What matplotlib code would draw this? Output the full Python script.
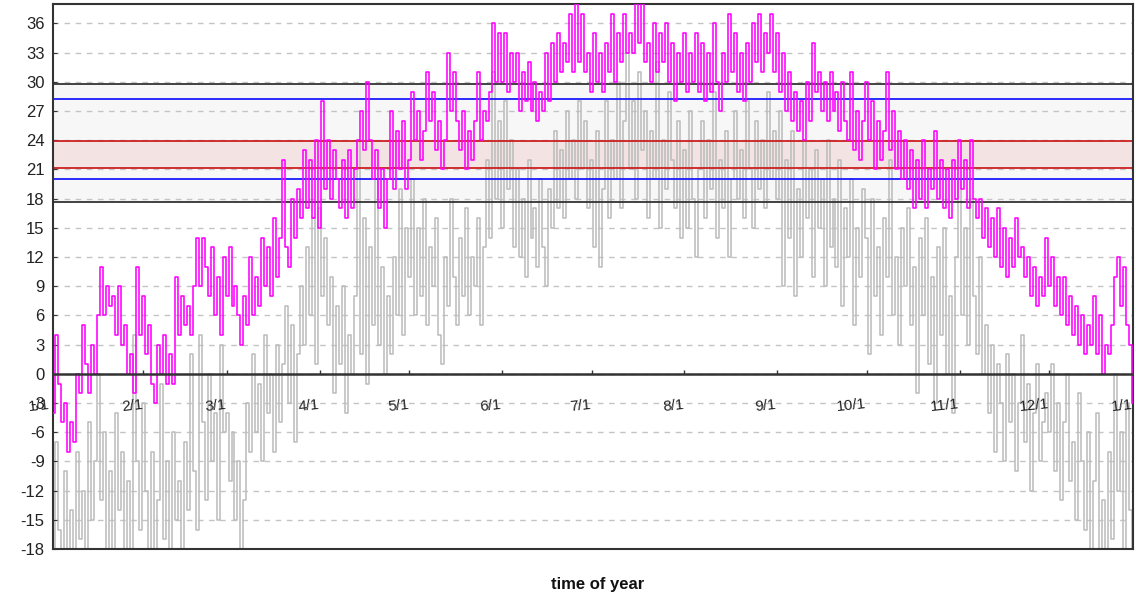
import numpy as np
import matplotlib
matplotlib.use('Agg')
import matplotlib.pyplot as plt

plt.rcParams['font.family'] = ['Liberation Sans', 'DejaVu Sans']
plt.rcParams['axes.unicode_minus'] = False

# daily high (magenta) by month
hi_jan = [1, -4, 4, -1, -5, -3, -8, -5, -7, 0, -2, 5, 1, -2, 3, 0, 6, 11, 6, 9, 7, 8, 4, 9, 3, 5, 0, 2, -2, 11, 4]
hi_feb = [8, 2, 5, -1, -3, 3, 0, 4, -1, 2, -1, 10, 4, 8, 5, 7, 4, 9, 14, 9, 14, 11, 8, 13, 6, 10, 4, 12]
hi_mar = [8, 13, 7, 9, 6, 3, 8, 5, 12, 6, 10, 7, 14, 9, 13, 8, 16, 10, 14, 22, 13, 11, 18, 14, 19, 16, 23, 17, 22, 16, 24]
hi_apr = [15, 28, 19, 24, 18, 23, 20, 17, 22, 16, 23, 17, 21, 24, 27, 23, 30, 24, 20, 23, 17, 21, 15, 20, 27, 19, 25, 21, 26, 19]
hi_may = [22, 29, 24, 27, 22, 25, 31, 26, 29, 23, 26, 21, 24, 33, 27, 31, 26, 23, 27, 21, 25, 22, 26, 31, 24, 27, 26, 29, 36, 30, 35]
hi_jun = [30, 35, 29, 33, 30, 33, 27, 31, 28, 32, 27, 30, 26, 29, 27, 33, 28, 34, 30, 35, 31, 34, 32, 37, 31, 38, 32, 37, 31, 33]
hi_jul = [29, 35, 30, 33, 29, 34, 31, 37, 30, 35, 32, 37, 33, 35, 33, 38, 34, 38, 32, 34, 30, 36, 31, 35, 32, 36, 30, 34, 28, 33, 30]
hi_aug = [35, 29, 33, 30, 35, 29, 34, 28, 33, 29, 36, 30, 27, 33, 30, 37, 31, 35, 29, 33, 28, 34, 30, 36, 32, 37, 31, 35, 33, 37, 31]
hi_sep = [35, 29, 33, 27, 31, 26, 29, 25, 28, 24, 30, 26, 34, 29, 31, 27, 30, 26, 31, 27, 29, 25, 30, 26, 24, 31, 23, 27, 22, 26]
hi_oct = [30, 24, 28, 21, 26, 22, 25, 31, 23, 27, 21, 25, 20, 24, 19, 23, 17, 22, 18, 24, 17, 21, 19, 25, 18, 22, 17, 21, 16, 22, 18]
hi_nov = [24, 19, 22, 17, 24, 18, 16, 18, 14, 17, 13, 16, 12, 17, 11, 15, 10, 14, 11, 16, 12, 13, 10, 12, 8, 11, 7, 10, 8, 14]
hi_dec = [9, 12, 7, 10, 6, 10, 5, 8, 4, 7, 3, 6, 2, 5, 3, 8, 2, 6, 0, 3, 2, 5, 10, 12, 7, 11, 5, 3, -3, 1, -4]

# daily low (gray) by month
lo_jan = [-12, -20, -7, -16, -22, -10, -19, -14, -21, -8, -17, -12, -20, -5, -15, -9, 0, -13, -6, -18, -10, -21, -4, -14, -8, -19, -11, -22, 4, -9, -16]
lo_feb = [-3, -12, -18, -8, -20, -13, -1, -17, -9, -21, -6, -15, -11, -19, -7, -14, 2, -10, -16, 4, -5, -13, 0, -9, -4, -15, 3, -6]
lo_mar = [-4, -11, -6, -15, -9, -20, -13, -3, -8, 2, -6, -1, -9, 4, -4, 0, -8, 3, -5, 1, 7, -3, 5, -7, 2, 9, 3, 13, 6, 16, 1]
lo_apr = [17, 8, 14, 5, 10, -2, 7, 1, 9, -4, 4, 0, 8, 24, 2, 16, -1, 13, 5, 20, 3, 11, 0, 8, 2, 12, 6, 19, 4, 15]
lo_may = [10, 20, 6, 15, 8, 18, 5, 13, 9, 16, 4, 1, 12, 7, 18, 10, 5, 14, 8, 17, 6, 12, 9, 16, 5, 13, 22, 14, 31, 18, 26]
lo_jun = [15, 28, 19, 24, 13, 21, 12, 18, 10, 22, 14, 17, 11, 20, 13, 9, 19, 15, 25, 17, 23, 16, 27, 20, 24, 18, 28, 21, 26, 17]
lo_jul = [22, 13, 25, 11, 19, 28, 16, 24, 20, 30, 17, 26, 33, 21, 28, 18, 31, 23, 27, 16, 25, 20, 32, 15, 24, 19, 29, 22, 17, 26, 14]
lo_aug = [23, 15, 27, 18, 12, 21, 26, 16, 24, 19, 29, 14, 22, 17, 25, 12, 20, 27, 18, 23, 16, 28, 21, 15, 26, 19, 24, 17, 29, 20, 25]
lo_sep = [18, 27, 9, 22, 14, 25, 8, 19, 12, 24, 16, 21, 10, 23, 15, 20, 9, 24, 13, 18, 11, 22, 7, 17, 12, 20, 5, 15, 10, 19]
lo_oct = [14, 2, 18, 8, 13, 4, 16, 10, 22, 6, 12, 3, 15, 9, 17, 5, 11, -2, 14, 6, 16, 1, 10, -3, 13, 4, 15, 0, 8, -4, 12]
lo_nov = [20, 6, 15, 3, 18, 8, 2, 12, 0, 5, -4, 3, -8, 1, -3, -9, 2, -5, 0, -10, -3, 4, -7, -1, -12, -4, 1, -9, -5, -2]
lo_dec = [-6, 1, -10, -3, -13, -5, 0, -11, -7, -15, -2, -9, -16, -6, -20, -11, -4, -19, -13, -22, -8, -17, 0, -12, -6, -20, -3, -14, -21, -9, -16]

month_labels = ['1/1', '2/1', '3/1', '4/1', '5/1', '6/1', '7/1', '8/1', '9/1', '10/1', '11/1', '12/1', '1/1']
month_days = [0, 31, 59, 90, 120, 151, 181, 212, 243, 273, 304, 334, 365]

# comfort bands: (low, high)
outer_band = (17.65, 29.8)
blue_band = (20.0, 28.2)
red_band = (21.2, 23.9)

hi = np.array(hi_jan + hi_feb + hi_mar + hi_apr + hi_may + hi_jun +
              hi_jul + hi_aug + hi_sep + hi_oct + hi_nov + hi_dec, dtype=float)
lo = np.array(lo_jan + lo_feb + lo_mar + lo_apr + lo_may + lo_jun +
              lo_jul + lo_aug + lo_sep + lo_oct + lo_nov + lo_dec, dtype=float)
days = np.arange(len(hi))

fig = plt.figure(figsize=(11.36, 5.98), dpi=100)
ax = fig.add_axes([53 / 1136, 1 - 549 / 598, 1080 / 1136, 545 / 598])

x_max = 362
ax.set_xlim(0.8, x_max)
ax.set_ylim(-18, 38)

# bands
ax.axhspan(*outer_band, facecolor='#f7f7f7', edgecolor='none', zorder=0.3)
ax.axhspan(*red_band, facecolor='#f3e3e3', edgecolor='none', zorder=0.4)

# grid
ax.set_yticks(range(-18, 37, 3))
for y in range(-18, 37, 3):
    ax.axhline(y, color='#c4c4c4', lw=1, dashes=(4, 4), zorder=0.5)

ax.step(days, lo, where='mid', color='#bdbdbd', lw=1.15, zorder=1)

for y in outer_band:
    ax.axhline(y, color='#333333', lw=1.3, zorder=2)
for y in blue_band:
    ax.axhline(y, color='#1a1aff', lw=1.3, zorder=2)
for y in red_band:
    ax.axhline(y, color='#cc1f1f', lw=1.3, zorder=2)

ax.step(days, hi, where='mid', color='#ff00ff', lw=1.15, zorder=3)

# zero line with month ticks and labels
ax.axhline(0, color='#333333', lw=1.8, zorder=4)
ax.vlines(month_days, 0, 0.35, color='#333333', lw=1, zorder=4)
for d, lab in zip(month_days, month_labels):
    ax.text(min(d, x_max), -3.3, lab, ha='right', va='center', fontsize=11,
            color='#222222', rotation=6, clip_on=False, zorder=5)

ax.set_xticks([])
ax.tick_params(axis='y', direction='in', length=3, color='#333333',
               labelsize=12, labelcolor='#222222', pad=6)
for s in ax.spines.values():
    s.set_color('#333333')
    s.set_linewidth(1.5)

fig.text(598 / 1136, 1 - 585 / 598, 'time of year', ha='center', va='center',
         fontsize=12, fontweight='bold', color='#111111')

fig.savefig('out.png', dpi=100)
